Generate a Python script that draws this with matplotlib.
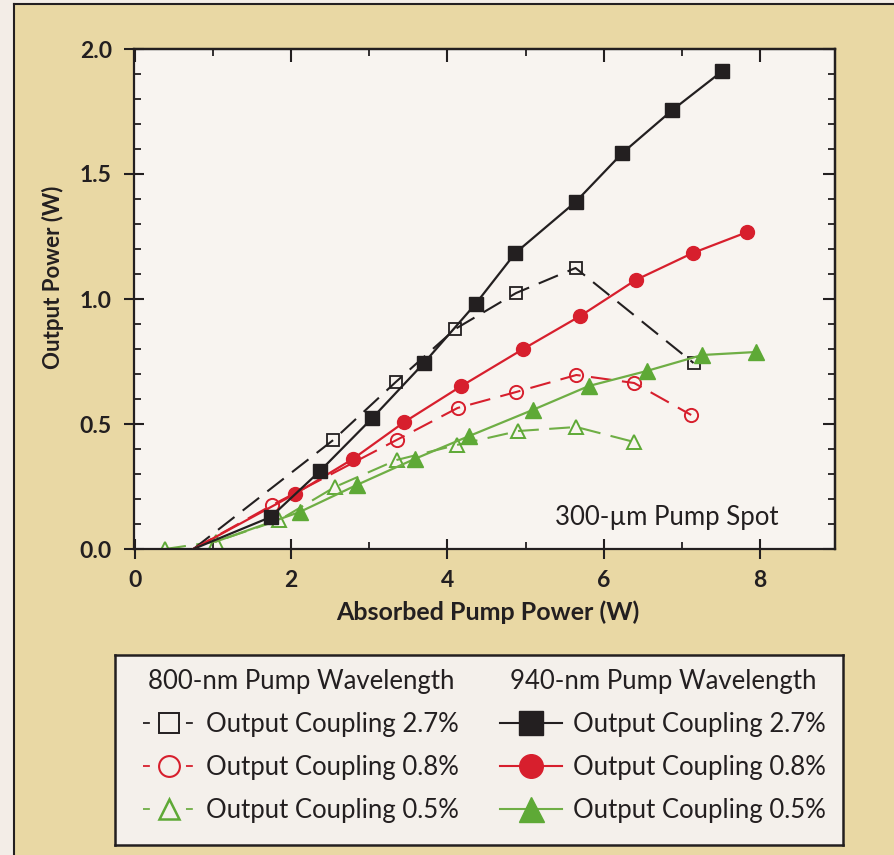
import matplotlib
matplotlib.use("Agg")
import matplotlib.pyplot as plt
from matplotlib.lines import Line2D
from matplotlib.patches import Rectangle
from matplotlib.ticker import MultipleLocator, FormatStrFormatter

# Absorbed pump power (W) / output power (W).
# First point of most series is the lasing threshold (no marker drawn there).
x_800_27 = [0.75, 2.54, 3.34, 4.10, 4.88, 5.64, 7.15]
y_800_27 = [0.00, 0.436, 0.668, 0.880, 1.024, 1.124, 0.744]

x_800_08 = [0.75, 1.76, 3.35, 4.13, 4.88, 5.65, 6.39, 7.12]
y_800_08 = [0.00, 0.176, 0.436, 0.564, 0.628, 0.696, 0.664, 0.536]

x_800_05 = [0.39, 1.04, 1.85, 2.56, 3.35, 4.12, 4.91, 5.65, 6.39]
y_800_05 = [0.00, 0.030, 0.116, 0.248, 0.356, 0.416, 0.472, 0.488, 0.428]

x_940_27 = [0.75, 1.74, 2.37, 3.04, 3.70, 4.36, 4.87, 5.64, 6.24, 6.88, 7.52]
y_940_27 = [0.00, 0.128, 0.312, 0.524, 0.744, 0.980, 1.184, 1.388, 1.584, 1.756, 1.912]

x_940_08 = [0.75, 2.05, 2.79, 3.45, 4.18, 4.97, 5.70, 6.41, 7.14, 7.84]
y_940_08 = [0.00, 0.220, 0.360, 0.508, 0.652, 0.800, 0.932, 1.076, 1.184, 1.268]

x_940_05 = [1.04, 2.11, 2.84, 3.58, 4.28, 5.09, 5.81, 6.55, 7.26, 7.95]
y_940_05 = [0.03, 0.148, 0.256, 0.360, 0.452, 0.556, 0.652, 0.712, 0.776, 0.788]

legend_titles = ["800-nm Pump Wavelength", "940-nm Pump Wavelength"]
coupling_labels = ["Output Coupling 2.7%", "Output Coupling 0.8%", "Output Coupling 0.5%"]

BLACK = "#231f20"
RED = "#d71f2d"
GREEN = "#5ea936"
GREEN_LINE = "#6fae45"
TAN = "#e9d8a4"
FONT = ["Lato", "DejaVu Sans"]

plt.rcParams["font.family"] = FONT

W, H = 894, 855
fig = plt.figure(figsize=(W / 100, H / 100), dpi=100)
fig.patch.set_facecolor("#f3ede7")

# tan panel with dark frame lines on left and top
fig.add_artist(Rectangle((14 / W, 0), 1 - 14 / W, 1 - 4 / H, transform=fig.transFigure,
                         facecolor=TAN, edgecolor="none", zorder=-10))
fig.add_artist(Line2D([14 / W, 14 / W], [0, 1 - 4 / H], transform=fig.transFigure, color=BLACK, lw=1.5))
fig.add_artist(Line2D([14 / W, 1], [1 - 4 / H, 1 - 4 / H], transform=fig.transFigure, color=BLACK, lw=1.5))

ax = fig.add_axes([134 / W, 1 - 549 / H, 701 / W, 500 / H])
ax.set_facecolor("#f8f4f0")
ax.set_xlim(-0.01, 8.96)
ax.set_ylim(0, 2.0)

dash = (0, (10, 5))

# 800 nm (open markers, dashed)
ax.plot(x_800_05, y_800_05, color=GREEN_LINE, ls=dash, lw=1.5, marker="^", ms=10, mfc="none",
        mec=GREEN, mew=1.4, zorder=2)
ax.plot(x_800_08, y_800_08, color=RED, ls=dash, lw=1.5, marker="o", ms=9.5, mfc="none",
        mew=1.4, markevery=slice(1, None), zorder=3)
ax.plot(x_800_27, y_800_27, color=BLACK, ls=dash, lw=1.5, marker="s", ms=9, mfc="none",
        mew=1.3, markevery=slice(1, None), zorder=3)

# 940 nm (filled markers, solid)
ax.plot(x_940_05, y_940_05, color=GREEN_LINE, ls="-", lw=1.6, marker="^", ms=11,
        mfc=GREEN, mec=GREEN, markevery=slice(1, None), zorder=4)
ax.plot(x_940_08, y_940_08, color=RED, ls="-", lw=1.6, marker="o", ms=10,
        markevery=slice(1, None), zorder=5)
ax.plot(x_940_27, y_940_27, color=BLACK, ls="-", lw=1.6, marker="s", ms=9.5,
        markevery=slice(1, None), zorder=6)

ax.text(6.81, 0.125, "300-\u00b5m Pump Spot", ha="center", va="center", fontsize=18.5, color=BLACK)

for s in ax.spines.values():
    s.set_linewidth(1.6)
    s.set_color(BLACK)

ax.xaxis.set_major_locator(MultipleLocator(2))
ax.xaxis.set_minor_locator(MultipleLocator(1))
ax.yaxis.set_major_locator(MultipleLocator(0.5))
ax.yaxis.set_minor_locator(MultipleLocator(0.1))
ax.yaxis.set_major_formatter(FormatStrFormatter("%.1f"))
ax.tick_params(which="major", direction="inout", length=14, width=1.5, color=BLACK,
               labelsize=16.5, labelcolor=BLACK)
ax.tick_params(axis="x", which="major", pad=8)
ax.tick_params(axis="y", which="major", pad=9)
ax.tick_params(which="minor", direction="in", length=5, width=1.3, color=BLACK)
for lab in ax.get_xticklabels() + ax.get_yticklabels():
    lab.set_fontweight("bold")

# top and right ticks point inwards
secx = ax.secondary_xaxis("top")
secx.xaxis.set_major_locator(MultipleLocator(2))
secx.xaxis.set_minor_locator(MultipleLocator(1))
secx.tick_params(which="major", direction="in", length=9, width=1.5, color=BLACK, labeltop=False)
secx.tick_params(which="minor", direction="in", length=5, width=1.3, color=BLACK)
secx.spines["top"].set_linewidth(1.6)
secy = ax.secondary_yaxis("right")
secy.yaxis.set_major_locator(MultipleLocator(0.5))
secy.yaxis.set_minor_locator(MultipleLocator(0.1))
secy.tick_params(which="major", direction="in", length=9, width=1.5, color=BLACK, labelright=False)
secy.tick_params(which="minor", direction="in", length=5, width=1.3, color=BLACK)
secy.spines["right"].set_linewidth(1.6)

ax.set_xlabel("Absorbed Pump Power (W)", fontsize=18, fontweight="bold", color=BLACK, va="center")
ax.xaxis.set_label_coords(0.505, -0.126)
ax.set_ylabel("Output Power (W)", fontsize=16, fontweight="bold", color=BLACK, va="center")
ax.yaxis.set_label_coords(-0.116, 0.544)

# legend box
ax_leg = fig.add_axes([115 / W, 1 - 845 / H, 728 / W, 190 / H])
ax_leg.set_facecolor("#f4f0eb")
ax_leg.set_xticks([])
ax_leg.set_yticks([])
for s in ax_leg.spines.values():
    s.set_linewidth(1.8)
    s.set_color(BLACK)

stub = (0, (3.8, 20))
open_handles = [
    Line2D([], [], color=BLACK, ls=stub, lw=1.3, marker="s", ms=15, mfc="none", mew=1.4),
    Line2D([], [], color=RED, ls=stub, lw=1.3, marker="o", ms=15, mfc="none", mew=1.5),
    Line2D([], [], color=GREEN_LINE, ls=stub, lw=1.3, marker="^", ms=15, mfc="none",
           mec=GREEN, mew=1.8),
]
filled_handles = [
    Line2D([], [], color=BLACK, ls="-", lw=1.5, marker="s", ms=17),
    Line2D([], [], color=RED, ls="-", lw=1.5, marker="o", ms=17),
    Line2D([], [], color=GREEN_LINE, ls="-", lw=1.5, marker="^", ms=18, mfc=GREEN, mec=GREEN),
]

common = dict(loc="upper left", bbox_transform=fig.transFigure, frameon=False, fontsize=18.5,
              title_fontsize=18.5, handletextpad=0.45, labelspacing=0.7, borderpad=0,
              borderaxespad=0)
leg1 = ax_leg.legend(open_handles, coupling_labels, title=legend_titles[0],
                     bbox_to_anchor=(143 / W, 1 - 669 / H), handlelength=2.0, **common)
ax_leg.add_artist(leg1)
leg2 = ax_leg.legend(filled_handles, coupling_labels, title=legend_titles[1],
                     bbox_to_anchor=(500 / W, 1 - 669 / H), handlelength=2.4, **common)
for lg in (leg1, leg2):
    for t in lg.get_texts():
        t.set_color(BLACK)
    lg.get_title().set_color(BLACK)

fig.savefig("out.png", dpi=100, facecolor=fig.get_facecolor())
